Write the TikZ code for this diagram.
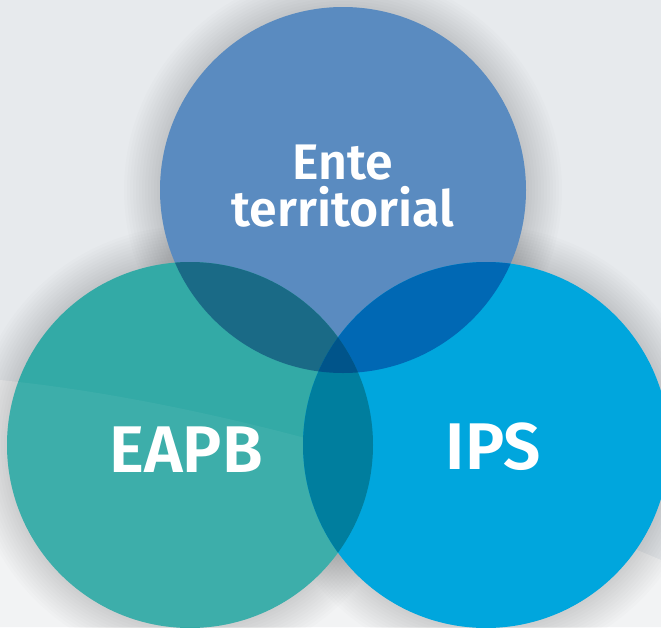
\documentclass[tikz,border=0pt]{standalone}
\usepackage{fontspec}
\setmainfont{Fira Sans}[BoldFont={* SemiBold}]
\definecolor{fondo}{HTML}{E7EAED}
\definecolor{fondoclaro}{HTML}{F2F3F4}
\definecolor{ente}{HTML}{5A8BC0}
\definecolor{eapb}{HTML}{33AAA6}
\definecolor{ips}{HTML}{00A6DD}
\definecolor{enteeapb}{HTML}{1A6A86}
\definecolor{enteips}{HTML}{0068B4}
\definecolor{eapbips}{HTML}{007E9E}
\definecolor{centro}{HTML}{00548A}
\tikzset{
  etiqueta/.style={text=white, font=\bfseries, align=center, inner sep=0pt},
  halo/.style={black, opacity=0.012},
}
\begin{document}
\begin{tikzpicture}[x=1pt,y=-1pt]
\useasboundingbox (0,0) rectangle (661,627);
\fill[fondo] (0,0) rectangle (661,627);
\fill[fondoclaro] (0,380) .. controls (200,400) and (450,470) .. (661,560) -- (661,627) -- (0,627) -- cycle;

\coordinate (cEnte) at (343,190);
\coordinate (cEapb) at (190,445);
\coordinate (cIps) at (486,445);

% sombras
\foreach \c in {cEnte,cEapb,cIps}
  \foreach \r in {3,6,...,36}
    \fill[halo] (\c) circle[radius=183pt+\r pt];

% circulos
\fill[ente] (cEnte) circle[radius=183pt];
\fill[eapb] (cEapb) circle[radius=183pt];
\fill[ips] (cIps) circle[radius=183pt];

% brillo del fondo a traves de EAPB
\begin{scope}
  \clip (cEapb) circle[radius=183pt];
  \fill[white, opacity=0.05] (0,380) .. controls (200,400) and (450,470) .. (661,560) -- (661,627) -- (0,627) -- cycle;
\end{scope}

% cruces
\begin{scope}
  \clip (cEnte) circle[radius=183pt];
  \fill[enteeapb] (cEapb) circle[radius=183pt];
  \fill[enteips] (cIps) circle[radius=183pt];
\end{scope}
\begin{scope}
  \clip (cEapb) circle[radius=183pt];
  \fill[eapbips] (cIps) circle[radius=183pt];
  \clip (cIps) circle[radius=183pt];
  \fill[centro] (cEnte) circle[radius=183pt];
\end{scope}

\node[etiqueta, font=\bfseries\fontsize{50}{47}\selectfont] (tEnte) at (343,186) {Ente\\territorial};
\node[etiqueta, font=\bfseries\fontsize{66}{66}\selectfont] (tEapb) at (186,450) {EAPB};
\node[etiqueta, font=\bfseries\fontsize{66}{66}\selectfont] (tIps) at (493,447) {IPS};
\end{tikzpicture}
\end{document}
